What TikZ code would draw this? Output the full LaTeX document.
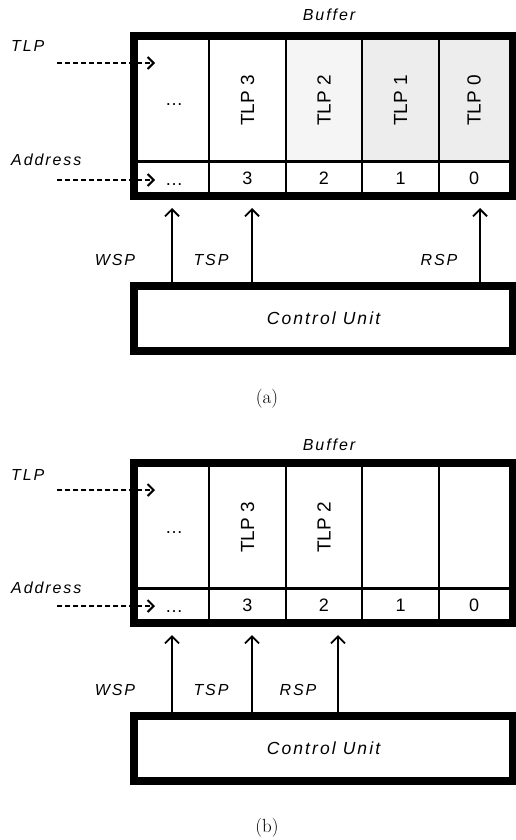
\documentclass[tikz,border=0pt]{standalone}
\usepackage{fontspec}
\newfontfamily\labfont[LetterSpace=12]{Liberation Sans}
\newfontfamily\cellfont{Liberation Sans}
\usetikzlibrary{arrows.meta}
\tikzset{
  thickbox/.style={draw, line width=8pt, inner sep=0pt, minimum width=379pt},
  cellbox/.style={inner sep=0pt, outer sep=0pt},
  grid/.style={line width=1.8pt},
  hgrid/.style={line width=3pt},
  lbl/.style={font=\labfont\itshape\fontsize{16}{19}\selectfont, inner sep=0pt},
  cutext/.style={font=\labfont\itshape\fontsize{17.5}{20}\selectfont},
  rottext/.style={font=\cellfont\fontsize{19}{22}\selectfont, rotate=90, inner sep=0pt},
  numtext/.style={font=\cellfont\fontsize{18}{21}\selectfont, anchor=base, inner sep=0pt},
  captext/.style={font=\fontsize{19}{22}\selectfont, inner sep=0pt},
  dasharrow/.style={line width=2pt, dash pattern=on 5pt off 3pt, -{Straight Barb[length=6pt,width=12pt,line width=2pt]}},
  uparrow/.style={line width=1.6pt, -{Straight Barb[length=7pt,width=14pt,line width=1.8pt]}, shorten >=8pt},
  shadeA/.style={fill=black!4},
  shadeB/.style={fill=black!7},
}
\begin{document}
\begin{tikzpicture}[x=1pt,y=-1pt]
\useasboundingbox (0,0) rectangle (516,840);
\fill[white] (0,0) rectangle (516,840);

% ================= Panel (a) =================
\node[cellbox, minimum width=71pt, minimum height=121pt] (a1) at (173.5,100.5) {};
\node[cellbox, minimum width=77pt, minimum height=121pt] (a2) at (247.5,100.5) {};
\node[cellbox, shadeA, minimum width=76pt, minimum height=121pt] (a3) at (324,100.5) {};
\node[cellbox, shadeB, minimum width=77pt, minimum height=121pt] (a4) at (400.5,100.5) {};
\node[cellbox, shadeB, minimum width=70pt, minimum height=121pt] (a5) at (474,100.5) {};
\node[cellbox, minimum width=71pt, minimum height=31pt] (d1) at (173.5,176.5) {};
\node[cellbox, minimum width=77pt, minimum height=31pt] (d2) at (247.5,176.5) {};
\node[cellbox, minimum width=76pt, minimum height=31pt] (d3) at (324,176.5) {};
\node[cellbox, minimum width=77pt, minimum height=31pt] (d4) at (400.5,176.5) {};
\node[cellbox, minimum width=70pt, minimum height=31pt] (d5) at (474,176.5) {};
\draw[grid] (a1.north east) -- (d1.south east);
\draw[grid] (a2.north east) -- (d2.south east);
\draw[grid] (a3.north east) -- (d3.south east);
\draw[grid] (a4.north east) -- (d4.south east);
\draw[hgrid] (a1.south west) -- (a5.south east);
\node[thickbox, minimum height=160pt] (bufA) at (323.5,116) {};
\node[numtext] (a1t) at (174,106) {\dots};
\node[rottext] (a2t) at (a2) {TLP 3};
\node[rottext] (a3t) at (a3) {TLP 2};
\node[rottext] (a4t) at (a4) {TLP 1};
\node[rottext] (a5t) at (a5) {TLP 0};
\node[numtext] (d1t) at (174,185) {\dots};
\node[numtext] (d2t) at (247.5,184.5) {3};
\node[numtext] (d3t) at (324,184.5) {2};
\node[numtext] (d4t) at (400.5,184.5) {1};
\node[numtext] (d5t) at (474,184.5) {0};
\node[lbl] (bufAlab) at (329,15) {Buffer};
\node[lbl, anchor=west] (tlpA) at (11,46) {TLP};
\node[lbl, anchor=west] (addrA) at (11,160) {Address};
\coordinate (tlpAs) at (57,63);
\coordinate (tlpAe) at (155,63);
\coordinate (addrAs) at (57,180);
\coordinate (addrAe) at (155,180);
\draw[dasharrow] (tlpAs) -- (tlpAe);
\draw[dasharrow] (addrAs) -- (addrAe);
\node[thickbox, minimum height=65pt, cutext] (ctrlA) at (323.5,318.5) {Control Unit};
\coordinate (wspA) at (172,318.5);
\coordinate (tspA) at (252,318.5);
\coordinate (rspA) at (480,318.5);
\draw[uparrow] (wspA |- ctrlA.north) -- (wspA |- bufA.south);
\draw[uparrow] (tspA |- ctrlA.north) -- (tspA |- bufA.south);
\draw[uparrow] (rspA |- ctrlA.north) -- (rspA |- bufA.south);
\node[lbl] (wspAl) at (115,260) {WSP};
\node[lbl] (tspAl) at (211,260) {TSP};
\node[lbl] (rspAl) at (439,260) {RSP};
\node[captext] (capA) at (267,399) {(a)};

% ================= Panel (b) =================
\node[cellbox, minimum width=71pt, minimum height=121pt] (b1) at (173.5,527.5) {};
\node[cellbox, minimum width=77pt, minimum height=121pt] (b2) at (247.5,527.5) {};
\node[cellbox, minimum width=76pt, minimum height=121pt] (b3) at (324,527.5) {};
\node[cellbox, minimum width=77pt, minimum height=121pt] (b4) at (400.5,527.5) {};
\node[cellbox, minimum width=70pt, minimum height=121pt] (b5) at (474,527.5) {};
\node[cellbox, minimum width=71pt, minimum height=31pt] (e1) at (173.5,603.5) {};
\node[cellbox, minimum width=77pt, minimum height=31pt] (e2) at (247.5,603.5) {};
\node[cellbox, minimum width=76pt, minimum height=31pt] (e3) at (324,603.5) {};
\node[cellbox, minimum width=77pt, minimum height=31pt] (e4) at (400.5,603.5) {};
\node[cellbox, minimum width=70pt, minimum height=31pt] (e5) at (474,603.5) {};
\draw[grid] (b1.north east) -- (e1.south east);
\draw[grid] (b2.north east) -- (e2.south east);
\draw[grid] (b3.north east) -- (e3.south east);
\draw[grid] (b4.north east) -- (e4.south east);
\draw[hgrid] (b1.south west) -- (b5.south east);
\node[thickbox, minimum height=160pt] (bufB) at (323.5,543) {};
\node[numtext] (b1t) at (174,533) {\dots};
\node[rottext] (b2t) at (b2) {TLP 3};
\node[rottext] (b3t) at (b3) {TLP 2};
\node[numtext] (e1t) at (174,612) {\dots};
\node[numtext] (e2t) at (247.5,611.5) {3};
\node[numtext] (e3t) at (324,611.5) {2};
\node[numtext] (e4t) at (400.5,611.5) {1};
\node[numtext] (e5t) at (474,611.5) {0};
\node[lbl] (bufBlab) at (329,445) {Buffer};
\node[lbl, anchor=west] (tlpB) at (11,475) {TLP};
\node[lbl, anchor=west] (addrB) at (11,588) {Address};
\coordinate (tlpBs) at (57,490);
\coordinate (tlpBe) at (155,490);
\coordinate (addrBs) at (57,606);
\coordinate (addrBe) at (155,606);
\draw[dasharrow] (tlpBs) -- (tlpBe);
\draw[dasharrow] (addrBs) -- (addrBe);
\node[thickbox, minimum height=65pt, cutext] (ctrlB) at (323.5,748.5) {Control Unit};
\coordinate (wspB) at (172,748.5);
\coordinate (tspB) at (252,748.5);
\coordinate (rspB) at (338,748.5);
\draw[uparrow] (wspB |- ctrlB.north) -- (wspB |- bufB.south);
\draw[uparrow] (tspB |- ctrlB.north) -- (tspB |- bufB.south);
\draw[uparrow] (rspB |- ctrlB.north) -- (rspB |- bufB.south);
\node[lbl] (wspBl) at (115,690) {WSP};
\node[lbl] (tspBl) at (211,690) {TSP};
\node[lbl] (rspBl) at (298,690) {RSP};
\node[captext] (capB) at (267,828) {(b)};
\end{tikzpicture}
\end{document}
